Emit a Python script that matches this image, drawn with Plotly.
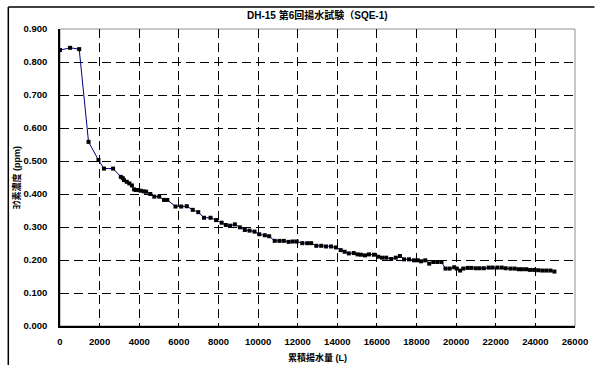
import plotly.graph_objects as go

volume_L = [0, 510, 970, 1440, 1940, 2220, 2680, 3070, 3170, 3230, 3370, 3500, 3630, 3740,
            3830, 3940, 4070, 4220, 4350, 4560, 4760, 5010, 5250, 5420, 5830, 6120, 6400,
            6700, 6980, 7270, 7600, 7880, 8160, 8370, 8590, 8830, 9080, 9330, 9570, 9820,
            10060, 10340, 10560, 10840, 11080, 11300, 11540, 11750, 11950, 12230, 12480,
            12680, 12940, 13190, 13430, 13680, 13930, 14170, 14370, 14580, 14830, 15020,
            15190, 15400, 15600, 15850, 16060, 16260, 16470, 16720, 16950, 17160, 17370,
            17620, 17870, 18060, 18230, 18440, 18640, 18850, 19050, 19260, 19460, 19670,
            19900, 20030, 20200, 20360, 20580, 20770, 20990, 21180, 21400, 21640, 21840,
            22080, 22300, 22500, 22740, 22950, 23150, 23320, 23530, 23730, 23940, 24140,
            24350, 24550, 24760, 24960]
conc_ppm = [0.836, 0.843, 0.839, 0.558, 0.503, 0.477, 0.477, 0.452, 0.448, 0.442, 0.437,
            0.432, 0.426, 0.414, 0.412, 0.412, 0.410, 0.408, 0.407, 0.400, 0.392, 0.392,
            0.382, 0.382, 0.362, 0.362, 0.363, 0.352, 0.345, 0.328, 0.328, 0.321, 0.313,
            0.306, 0.304, 0.308, 0.299, 0.291, 0.289, 0.286, 0.278, 0.275, 0.272, 0.258,
            0.258, 0.258, 0.255, 0.256, 0.256, 0.251, 0.251, 0.251, 0.243, 0.243, 0.241,
            0.241, 0.238, 0.230, 0.225, 0.220, 0.221, 0.217, 0.216, 0.214, 0.217, 0.216,
            0.210, 0.207, 0.207, 0.203, 0.207, 0.212, 0.202, 0.202, 0.199, 0.199, 0.196,
            0.199, 0.189, 0.194, 0.194, 0.194, 0.174, 0.174, 0.178, 0.174, 0.168, 0.174,
            0.176, 0.176, 0.175, 0.175, 0.175, 0.177, 0.177, 0.177, 0.177, 0.175, 0.174,
            0.174, 0.172, 0.172, 0.172, 0.170, 0.170, 0.169, 0.168, 0.168, 0.168, 0.165]

x_ticks = list(range(0, 26001, 2000))
y_ticks = [i / 10 for i in range(0, 10)]

title_text = "DH-15 第6回揚水試験（SQE-1)"
y_title = "ﾖｳ素濃度 (ppm)"
x_title = "累積揚水量 (L)"

FONT = "Liberation Sans, Arial, Noto Sans CJK JP"

fig = go.Figure()
fig.add_trace(go.Scatter(
    x=volume_L, y=conc_ppm, mode="lines+markers",
    line=dict(color="#000080", width=1),
    marker=dict(symbol="square", size=4, color="black"),
    showlegend=False,
))

L, R, T, B = 60, 10, 29, 39
W, H = 598, 365
pw, ph = W - L - R, H - T - B

tickfont = dict(family=FONT, size=9.5, color="black", weight="bold")

fig.update_layout(
    width=W, height=H,
    margin=dict(l=L, r=R, t=T, b=B),
    paper_bgcolor="white", plot_bgcolor="white",
    font=dict(family=FONT, size=9, color="black"),
    xaxis=dict(range=[0, 26000], tickvals=x_ticks, ticktext=[str(v) for v in x_ticks],
               showgrid=True, gridcolor="black", gridwidth=1, griddash="9px,5px",
               showline=True, linecolor="black", linewidth=1.5, zeroline=False,
               ticks="", tickfont=tickfont, ticklabelstandoff=6,
               ticklabeloverflow="allow"),
    yaxis=dict(range=[0, 0.9], tickvals=y_ticks, ticktext=[f"{v:.3f}" for v in y_ticks],
               showgrid=True, gridcolor="black", gridwidth=1, griddash="9px,5px",
               showline=True, linecolor="black", linewidth=1.5, zeroline=False,
               ticks="", tickfont=tickfont, ticklabelstandoff=9,
               ticklabeloverflow="allow"),
)

# gray plot-area border (top and right)
fig.add_shape(type="rect", xref="paper", yref="paper", x0=0, y0=0, x1=1, y1=1,
              line=dict(color="#909090", width=1), layer="below")

# outer chart border (left and top visible)
bx = (7 - L) / pw
by = 1 + (T - 7) / ph
fig.add_shape(type="line", xref="paper", yref="paper", x0=bx, y0=by, x1=1 + 20 / pw, y1=by,
              line=dict(color="black", width=1.5))
fig.add_shape(type="line", xref="paper", yref="paper", x0=bx, y0=by, x1=bx, y1=-60 / ph,
              line=dict(color="black", width=1.5))

fig.add_annotation(text=f"<b>{title_text}</b>", xref="paper", yref="paper",
                   x=0.5, y=1 + (T - 15) / ph, xanchor="center", yanchor="middle",
                   showarrow=False, font=dict(family=FONT, size=10, color="black"))
fig.add_annotation(text=f"<b>{y_title}</b>", xref="paper", yref="paper",
                   x=(15 - L) / pw, y=0.5, xanchor="center", yanchor="middle", textangle=-90,
                   showarrow=False, font=dict(family=FONT, size=9, color="black"))
fig.add_annotation(text=f"<b>{x_title}</b>", xref="paper", yref="paper",
                   x=0.5, y=-(357 - (H - B)) / ph, xanchor="center", yanchor="middle",
                   showarrow=False, font=dict(family=FONT, size=9, color="black"))

fig.write_html("out.html")
